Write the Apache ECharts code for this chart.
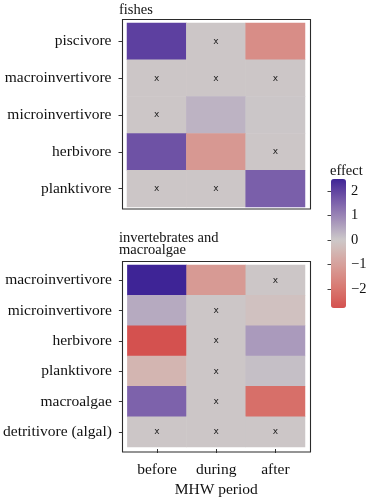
<!DOCTYPE html>
<html><head><meta charset="utf-8">
<script src="https://cdn.jsdelivr.net/npm/echarts@6/dist/echarts.min.js"></script>
<style>html,body{margin:0;padding:0;background:#fff}#c{width:392px;height:499px}</style>
</head><body><div id="c"></div>
<script>
// ---- data ----
var periods = ['before', 'during', 'after'];
var fishGroups = ['piscivore', 'macroinvertivore', 'microinvertivore', 'herbivore', 'planktivore'];
var invGroups = ['macroinvertivore', 'microinvertivore', 'herbivore', 'planktivore', 'macroalgae', 'detritivore (algal)'];
// effect values per row: [before, during, after]
var fishEffect = [
  [2.05, 0, -1.45],
  [0, 0, 0],
  [0, 0.32, 0.02],
  [1.78, -1.2, 0],
  [0, 0, 1.58]
];
var fishNS = [ // 1 = non-significant (x)
  [0, 1, 0],
  [1, 1, 1],
  [1, 0, 0],
  [0, 0, 1],
  [1, 1, 0]
];
var invEffect = [
  [2.49, -1.15, 0],
  [0.45, 0, -0.2],
  [-2.78, 0, 0.68],
  [-0.5, 0, 0.15],
  [1.52, 0, -2.15],
  [0, 0, 0]
];
var invNS = [
  [0, 0, 1],
  [0, 1, 0],
  [0, 1, 0],
  [0, 1, 0],
  [0, 1, 0],
  [1, 1, 1]
];
var legendTicks = [-2, -1, 0, 1, 2];
var effectMin = -2.78, effectMax = 2.49;
var panelTitles = ['fishes', 'invertebrates and\nmacroalgae'];
var xTitle = 'MHW period';
var legendTitle = 'effect';

// ---- colour ramp (gradient2-like, Lab interpolation) ----
function hex2rgb(h){h=h.replace('#','');return [parseInt(h.substr(0,2),16),parseInt(h.substr(2,2),16),parseInt(h.substr(4,2),16)];}
function lin(c){c/=255;return c<=0.04045?c/12.92:Math.pow((c+0.055)/1.055,2.4);}
function unlin(c){c=c<=0.0031308?12.92*c:1.055*Math.pow(c,1/2.4)-0.055;return Math.max(0,Math.min(255,Math.round(c*255)));}
function rgb2lab(rgb){var r=lin(rgb[0]),g=lin(rgb[1]),b=lin(rgb[2]);
  var x=(r*0.4124+g*0.3576+b*0.1805)/0.95047,y=(r*0.2126+g*0.7152+b*0.0722),z=(r*0.0193+g*0.1192+b*0.9505)/1.08883;
  function f(t){return t>0.008856?Math.cbrt(t):7.787*t+16/116;}
  var fx=f(x),fy=f(y),fz=f(z);return [116*fy-16,500*(fx-fy),200*(fy-fz)];}
function lab2hex(l){var fy=(l[0]+16)/116,fx=fy+l[1]/500,fz=fy-l[2]/200;
  function fi(t){return t*t*t>0.008856?t*t*t:(t-16/116)/7.787;}
  var x=fi(fx)*0.95047,y=fi(fy),z=fi(fz)*1.08883;
  var r=x*3.2406+y*-1.5372+z*-0.4986,g=x*-0.9689+y*1.8758+z*0.0415,b=x*0.0557+y*-0.2040+z*1.0570;
  return 'rgb('+unlin(r)+','+unlin(g)+','+unlin(b)+')';}
var lowC=rgb2lab(hex2rgb('#d4514f')), midC=rgb2lab(hex2rgb('#cdc9c9')), highC=rgb2lab(hex2rgb('#22108f'));
function mix(a,b,s){return [a[0]+(b[0]-a[0])*s,a[1]+(b[1]-a[1])*s,a[2]+(b[2]-a[2])*s];}
var maxAbs=Math.max(Math.abs(effectMin),Math.abs(effectMax));
var ramp=[];var N=53;
for(var i=0;i<N;i++){var v=effectMin+(effectMax-effectMin)*i/(N-1);var t=0.5+v/(2*maxAbs);
  ramp.push(t<0.5?lab2hex(mix(lowC,midC,t/0.5)):lab2hex(mix(midC,highC,(t-0.5)/0.5)));}

function build(vals, ns){var out=[];
  for(var r=0;r<vals.length;r++)for(var c=0;c<3;c++)
    out.push({value:[c,r,vals[r][c]],label:{show:ns[r][c]===1}});
  return out;}

var font='Liberation Serif';
var txt='#111';
var chart=echarts.init(document.getElementById('c'),null,{renderer:'canvas'});
var yAxisCommon=function(gi,cats){return {type:'category',gridIndex:gi,data:cats,inverse:true,offset:4.5,
  axisLine:{show:false},axisTick:{show:true,alignWithLabel:true,length:4,lineStyle:{color:'#333'}},
  axisLabel:{fontFamily:font,fontSize:15.5,color:txt,margin:11},splitLine:{show:false}};};
var option={
  animation:false,
  textStyle:{fontFamily:font},
  title:[
    {text:panelTitles[0],left:119,top:3,padding:0,textStyle:{fontFamily:font,fontSize:14.5,fontWeight:'normal',color:txt}},
    {text:panelTitles[1],left:119,top:232,padding:0,textStyle:{fontFamily:font,fontSize:14.5,fontWeight:'normal',color:txt,lineHeight:12}},
    {text:legendTitle,left:330,top:164,padding:0,textStyle:{fontFamily:font,fontSize:14.5,fontWeight:'normal',color:txt}}
  ],
  grid:[
    {left:127,top:23,width:178,height:184},
    {left:127,top:265,width:178,height:185},
    {left:331,top:179,width:15,height:129}
  ],
  xAxis:[
    {type:'category',gridIndex:0,data:periods,axisLine:{show:false},axisTick:{show:false},axisLabel:{show:false}},
    {type:'category',gridIndex:1,data:periods,offset:2,axisLine:{show:false},
      axisTick:{show:true,alignWithLabel:true,length:4,lineStyle:{color:'#333'}},
      axisLabel:{fontFamily:font,fontSize:15.5,color:txt,margin:13},
      name:xTitle,nameLocation:'middle',nameGap:33,nameTextStyle:{fontFamily:font,fontSize:15.5,color:txt}},
    {type:'value',gridIndex:2,show:false,min:0,max:1}
  ],
  yAxis:[
    yAxisCommon(0,fishGroups),
    yAxisCommon(1,invGroups),
    {type:'value',gridIndex:2,position:'right',min:effectMin,max:effectMax,
      axisLine:{show:false},splitLine:{show:false},
      axisTick:{show:true,inside:true,length:3.5,customValues:legendTicks,lineStyle:{color:'#444'}},
      axisLabel:{fontFamily:font,fontSize:14.5,color:txt,margin:5,customValues:legendTicks,
        formatter:function(v){return v<0?'\u2212'+Math.abs(v):String(v);}}},
    {type:'value',gridIndex:2,position:'left',min:effectMin,max:effectMax,
      axisLine:{show:false},splitLine:{show:false},axisLabel:{show:false},
      axisTick:{show:true,inside:true,length:3.5,customValues:legendTicks,lineStyle:{color:'#444'}}}
  ],
  visualMap:{type:'continuous',min:effectMin,max:effectMax,seriesIndex:[0,1],
    left:331,top:179,itemWidth:15,itemHeight:129,padding:0,calculable:false,hoverLink:false,
    text:null,showLabel:false,inRange:{color:ramp}},
  graphic:[
    {type:'rect',shape:{x:122.5,y:19.5,width:188,height:189.5},style:{fill:null,stroke:'#2b2b2b',lineWidth:1.1},z:100},
    {type:'rect',shape:{x:122.5,y:261.5,width:188,height:190.5},style:{fill:null,stroke:'#2b2b2b',lineWidth:1.1},z:100}
  ],
  series:[
    {type:'heatmap',xAxisIndex:0,yAxisIndex:0,data:build(fishEffect,fishNS),
      label:{formatter:'x',fontFamily:'DejaVu Sans',fontSize:9,color:'#222'},emphasis:{disabled:true}},
    {type:'heatmap',xAxisIndex:1,yAxisIndex:1,data:build(invEffect,invNS),
      label:{formatter:'x',fontFamily:'DejaVu Sans',fontSize:9,color:'#222'},emphasis:{disabled:true}}
  ]
};
chart.setOption(option);
</script></body></html>
